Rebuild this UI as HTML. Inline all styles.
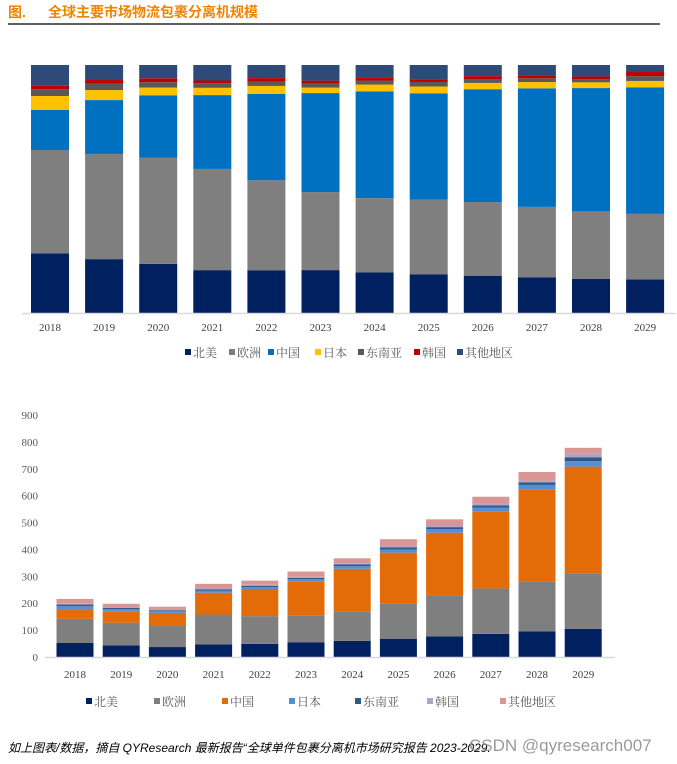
<!DOCTYPE html>
<html><head><meta charset="utf-8">
<style>
body{margin:0;width:677px;height:764px;background:#fff;overflow:hidden;font-family:"Liberation Serif","Noto Serif CJK SC",serif;}
svg{position:absolute;left:0;top:0;}
</style></head>
<body>
<svg id="c" width="677" height="764">
<text x="8" y="17" font-size="14" font-weight="bold" fill="#f08300" font-family="'Liberation Sans','Noto Sans CJK SC',sans-serif">图.</text>
<text x="48" y="17" font-size="14" font-weight="bold" fill="#f08300" font-family="'Liberation Sans','Noto Sans CJK SC',sans-serif">全球主要市场物流包裹分离机规模</text>
<line x1="8" y1="24" x2="660" y2="24" stroke="#000" stroke-width="1.2"/>
<g id="topChart"></g>
<g id="botChart"></g>
<text x="8" y="752" font-size="12" font-style="italic" fill="#000" font-family="'Liberation Sans','Noto Sans CJK SC',sans-serif">如上图表/数据，摘自 QYResearch 最新报告“全球单件包裹分离机市场研究报告 2023-2029.</text>
<text x="469" y="751" font-size="17" fill="#888" fill-opacity="0.85" font-family="'Liberation Sans',sans-serif">CSDN @qyresearch007</text>
</svg>
<script>
const years=['2018','2019','2020','2021','2022','2023','2024','2025','2026','2027','2028','2029'];
const seriesNames=['北美','欧洲','中国','日本','东南亚','韩国','其他地区'];
const northAmerica=[52,43,37,47,49,55,60,68,77,86,95,105];
const europe=[90,84,80,111,103,100,110,132,152,169,187,206];
const china=[35,43,47,81,99,127,158,188,233,285,342,397];
const japan=[12,8,6,8,9,7,10,12,13,15,16,20];
const southeastAsia=[6,5,4,5,5,5,6,8,8,9,9,15];
const korea=[3,3,3,3,4,4,5,5,6,7,7,13];
const others=[18,12,10,17,15,20,18,25,23,25,32,22];
const yTicks=[0,100,200,300,400,500,600,700,800,900];
const series=[northAmerica,europe,china,japan,southeastAsia,korea,others];
const topColors=['#002060','#7f7f7f','#0070c0','#ffc000','#595959','#c00000','#2e4a78'];
const botColors=['#002060','#7f7f7f','#e36c09','#558ed5','#2e5a88','#b3a2c7','#d99694'];
const NS='http://www.w3.org/2000/svg';
function mk(tag,attrs,parent,txt){const e=document.createElementNS(NS,tag);for(const k in attrs)e.setAttribute(k,attrs[k]);if(txt!==undefined)e.textContent=txt;parent.appendChild(e);return e;}
const cjk="'Liberation Serif','Noto Serif CJK SC',serif";
const topG=document.getElementById('topChart');
const tX=i=>50+i*54.1, tY0=313, tH=248;
years.forEach((y,i)=>{
  let total=0;series.forEach(s=>total+=s[i]);
  let cum=0;
  series.forEach((s,k)=>{
    const h=s[i]/total*tH;
    const r=mk('rect',{x:tX(i)-19,y:tY0-(cum+s[i])/total*tH,width:38,height:h,fill:topColors[k]},topG);
    
    
    cum+=s[i];
  });
  const t=mk('text',{x:tX(i),y:331,'font-size':11,'text-anchor':'middle',fill:'#404040','font-family':cjk},topG,y);
  
  
});
const ta=mk('line',{x1:22,y1:313.5,x2:676,y2:313.5,stroke:'#d9d9d9','stroke-width':1.5},topG);


const topLeg=[185,229,268,315,358,414,457];
seriesNames.forEach((n,k)=>{
  const g=mk('g',{},topG);
  
  
  mk('rect',{x:topLeg[k],y:349,width:6,height:6,fill:topColors[k]},g);
  mk('text',{x:topLeg[k]+8,y:357,'font-size':12,fill:'#595959','font-family':cjk},g,n);
});
const botG=document.getElementById('botChart');
const bX=i=>75+i*46.2, bY=v=>657-v*0.2689;
yTicks.forEach(v=>{
  const t=mk('text',{x:38,y:bY(v)+4,'font-size':11,'text-anchor':'end',fill:'#595959','font-family':cjk},botG,v);
  
  
});
years.forEach((y,i)=>{
  let cum=0;
  series.forEach((s,k)=>{
    const r=mk('rect',{x:bX(i)-18.5,y:bY(cum+s[i]),width:37,height:bY(cum)-bY(cum+s[i]),fill:botColors[k]},botG);
    
    
    cum+=s[i];
  });
  const t=mk('text',{x:bX(i),y:678,'font-size':11,'text-anchor':'middle',fill:'#404040','font-family':cjk},botG,y);
  
  
});
const ba=mk('line',{x1:45,y1:657.5,x2:615,y2:657.5,stroke:'#d9d9d9','stroke-width':1.5},botG);


const botLeg=[86,154,222,289,355,427,500];
seriesNames.forEach((n,k)=>{
  const g=mk('g',{},botG);
  
  
  mk('rect',{x:botLeg[k],y:698,width:6,height:6,fill:botColors[k]},g);
  mk('text',{x:botLeg[k]+8,y:706,'font-size':12,fill:'#595959','font-family':cjk},g,n);
});
</script>
</body></html>
